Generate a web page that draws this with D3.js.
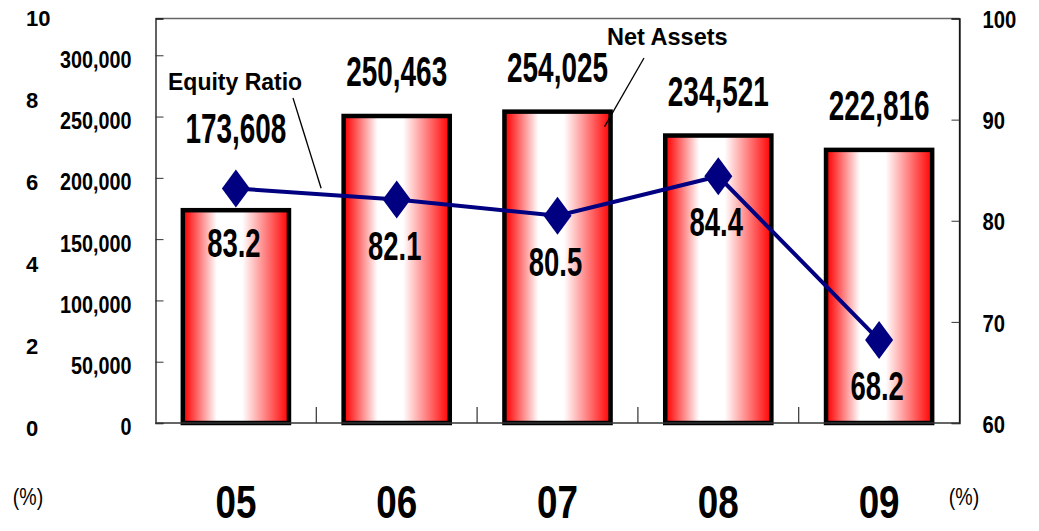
<!DOCTYPE html>
<html>
<head>
<meta charset="utf-8">
<script src="https://cdn.jsdelivr.net/npm/d3@7/dist/d3.min.js"></script>
<style>
  html, body { margin: 0; padding: 0; background: #fff; }
  svg { display: block; }
  text { font-family: "Liberation Sans", Arial, sans-serif; fill: #000; }
</style>
</head>
<body>
<svg id="chart" width="1039" height="531"></svg>
<script>
// Fiscal years
const categories = ["05", "06", "07", "08", "09"];
// Net assets (bars, left axis)
const netAssets = [173608, 250463, 254025, 234521, 222816];
// Equity ratio in % (line, right axis)
const equityRatio = [83.2, 82.1, 80.5, 84.4, 68.2];
// Axis tick values
const leftTicks = [0, 50000, 100000, 150000, 200000, 250000, 300000];
const rightTicks = [60, 70, 80, 90, 100];
const pctTicks = [0, 2, 4, 6, 8, 10];

const svg = d3.select("#chart");
const plot = { left: 155.5, right: 959.5, top: 18.5, bottom: 423 };

const x = d3.scaleBand()
  .domain(categories)
  .range([plot.left, plot.right])
  .paddingInner(0.34)
  .paddingOuter(0.17);
const cx = d => x(d) + x.bandwidth() / 2;
const yL = d3.scaleLinear().domain([0, 330000]).range([plot.bottom, plot.top]);
const yR = d3.scaleLinear().domain([60, 100]).range([plot.bottom, plot.top]);
const yPct = d3.scaleLinear().domain([0, 10]).range([428, 18]);

const fmt = d3.format(",");

// Horizontal red-white-red gradient for the bars
const defs = svg.append("defs");
const grad = defs.append("linearGradient").attr("id", "barGrad")
  .attr("x1", "0%").attr("x2", "100%").attr("y1", "0%").attr("y2", "0%");
[[0, "#ff0000"], [0.04, "#ff1818"], [0.32, "#ffffff"], [0.56, "#ffffff"], [0.96, "#ff1818"], [1, "#ff0000"]].forEach(([o, c]) =>
  grad.append("stop").attr("offset", o).attr("stop-color", c));

// Condensed text helper: horizontal squeeze around the anchor point
function ctext(parent, str, px, py, size, sx, anchor, weight) {
  return parent.append("text")
    .attr("transform", `translate(${px},${py}) scale(${sx},1)`)
    .attr("text-anchor", anchor || "middle")
    .style("font-size", size + "px")
    .style("font-weight", weight || "bold")
    .text(str);
}

// Plot frame
svg.append("line").attr("x1", plot.left).attr("x2", plot.right)
  .attr("y1", plot.top).attr("y2", plot.top).attr("stroke", "#666").attr("stroke-width", 1.3);
svg.append("line").attr("x1", plot.right).attr("x2", plot.right)
  .attr("y1", plot.top).attr("y2", plot.bottom).attr("stroke", "#222").attr("stroke-width", 1.3);

// Bars
svg.append("g").selectAll("rect").data(netAssets).join("rect")
  .attr("x", (d, i) => x(categories[i]))
  .attr("width", x.bandwidth())
  .attr("y", d => yL(d))
  .attr("height", d => yL(0) - yL(d))
  .attr("fill", "url(#barGrad)")
  .attr("stroke", "#000")
  .attr("stroke-width", 4.5);

// Left axis (net assets)
const gL = svg.append("g").attr("transform", `translate(${plot.left},0)`)
  .call(d3.axisLeft(yL).tickValues(leftTicks).tickSize(-8).tickFormat(fmt));
gL.select(".domain").attr("stroke", "#111").attr("stroke-width", 1.3);
gL.selectAll(".tick line").attr("stroke", "#333");
gL.selectAll(".tick text")
  .attr("x", -24 / 0.86).attr("dy", "0.52em")
  .attr("transform", "scale(0.86,1)")
  .style("font-size", "23px").style("font-weight", "bold")
  .style("font-family", '"Liberation Sans", Arial, sans-serif').attr("fill", "#000");

// Right axis (equity ratio %)
const gR = svg.append("g").attr("transform", `translate(${plot.right},0)`)
  .call(d3.axisRight(yR).tickValues(rightTicks).tickSize(-8));
gR.select(".domain").attr("stroke", "#111").attr("stroke-width", 1.3);
gR.selectAll(".tick line").attr("stroke", "#333");
gR.selectAll(".tick text")
  .attr("x", 23 / 0.88).attr("dy", "0.4em")
  .attr("transform", "scale(0.88,1)")
  .style("font-size", "23px").style("font-weight", "bold")
  .style("font-family", '"Liberation Sans", Arial, sans-serif').attr("fill", "#000");

// Outer percent column
const gP = svg.append("g").attr("transform", "translate(26,0)")
  .call(d3.axisLeft(yPct).tickValues(pctTicks).tickSize(0));
gP.select(".domain").remove();
gP.selectAll(".tick text")
  .attr("x", 0).attr("dy", "0.36em").attr("text-anchor", "start")
  .style("font-size", "22px").style("font-weight", "bold")
  .style("font-family", '"Liberation Sans", Arial, sans-serif').attr("fill", "#000");

// Bottom axis with separators between years
svg.append("line").attr("x1", plot.left).attr("x2", plot.right)
  .attr("y1", plot.bottom).attr("y2", plot.bottom).attr("stroke", "#333").attr("stroke-width", 1.3);
svg.append("g").selectAll("line").data(categories.slice(1)).join("line")
  .attr("x1", d => x(d) - x.step() * x.paddingInner() / 2)
  .attr("x2", d => x(d) - x.step() * x.paddingInner() / 2)
  .attr("y1", plot.bottom).attr("y2", plot.bottom - 16)
  .attr("stroke", "#333").attr("stroke-width", 1.2);

// Year labels
categories.forEach(c => ctext(svg, c, cx(c), 518, 46, 0.8));

// Unit labels
ctext(svg, "(%)", 28, 505, 23, 0.85, "middle", "normal");
ctext(svg, "(%)", 964, 505, 23, 0.85, "middle", "normal");

// Equity ratio line + diamond markers
const pts = equityRatio.map((v, i) => [cx(categories[i]), yR(v)]);
svg.append("path")
  .attr("d", d3.line()(pts))
  .attr("fill", "none").attr("stroke", "#000080").attr("stroke-width", 4);
svg.append("g").selectAll("path").data(pts).join("path")
  .attr("d", d => `M${d[0]},${d[1] - 19}L${d[0] + 14},${d[1]}L${d[0]},${d[1] + 19}L${d[0] - 14},${d[1]}Z`)
  .attr("fill", "#000080");

// Net asset labels above bars (kept clear of the markers)
netAssets.forEach((v, i) => {
  const px = cx(categories[i]);
  const base = Math.min(yL(v) - 30, yR(equityRatio[i]) - 45);
  ctext(svg, fmt(v), px, base, 42, 0.665);
});

// Equity ratio labels below markers (kept clear of the bar tops)
equityRatio.forEach((v, i) => {
  const px = cx(categories[i]);
  const center = Math.max(yR(v) + 45, yL(netAssets[i]) + 32);
  ctext(svg, v.toFixed(1), px - 2, center + 15, 41, 0.67);
});

// Series callouts
const eq0 = pts[0], eq1 = pts[1];
const tEq = 0.53;
const eqEnd = [eq0[0] + (eq1[0] - eq0[0]) * tEq, eq0[1] + (eq1[1] - eq0[1]) * tEq - 6];
ctext(svg, "Equity Ratio", 168, 90, 23, 1.0, "start");
svg.append("line").attr("x1", 293).attr("y1", 98)
  .attr("x2", eqEnd[0]).attr("y2", eqEnd[1])
  .attr("stroke", "#000").attr("stroke-width", 1.3);

const naEnd = [x("07") + x.bandwidth() - 6, yL(netAssets[2]) + 15];
ctext(svg, "Net Assets", 607, 45, 24, 0.98, "start");
svg.append("line").attr("x1", 644).attr("y1", 58)
  .attr("x2", naEnd[0]).attr("y2", naEnd[1])
  .attr("stroke", "#000").attr("stroke-width", 1.3);
</script>
</body>
</html>
